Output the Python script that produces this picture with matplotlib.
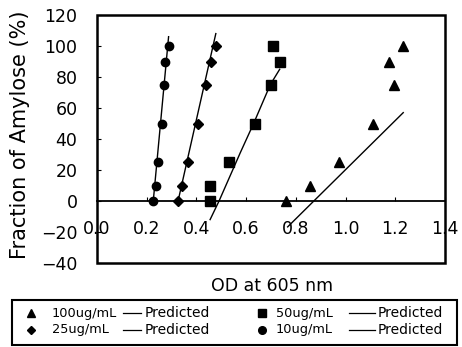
import matplotlib
matplotlib.use("Agg")
import matplotlib.pyplot as plt
from matplotlib.lines import Line2D
from matplotlib.patches import Rectangle

plt.rcParams['font.family'] = ['DejaVu Sans']

# Data
od_100 = [0.762, 0.856, 0.973, 1.11, 1.195, 1.175, 1.232]
fa_100 = [0, 10, 25, 50, 75, 90, 100]
pred_100_x = [0.767, 1.232]
pred_100_y = [-16.7, 57]

od_50 = [0.455, 0.455, 0.533, 0.636, 0.70, 0.737, 0.708]
fa_50 = [0, 10, 25, 50, 75, 90, 100]
pred_50_x = [0.455, 0.491, 0.576, 0.63, 0.697, 0.735]
pred_50_y = [-12, 0, 31, 50, 75, 85]

od_25 = [0.327, 0.341, 0.367, 0.405, 0.44, 0.459, 0.478]
fa_25 = [0, 10, 25, 50, 75, 90, 100]
pred_25_x = [0.327, 0.478]
pred_25_y = [0.6, 108]

od_10 = [0.2255, 0.239, 0.247, 0.26, 0.271, 0.275, 0.29]
fa_10 = [0, 10, 25, 50, 75, 90, 100]
pred_10_x = [0.228, 0.288]
pred_10_y = [2.8, 106]

x_ticks = [0.0, 0.2, 0.4, 0.6, 0.8, 1.0, 1.2, 1.4]
x_ticklabels = ["0.0", "0.2", "0.4", "0.6", "0.8", "1.0", "1.2", "1.4"]
y_ticks = [-40, -20, 0, 20, 40, 60, 80, 100, 120]

legend_labels = ["100ug/mL", "50ug/mL", "25ug/mL", "10ug/mL"]
pred_label = "Predicted"

W, H = 462, 347
fig = plt.figure(figsize=(W / 100, H / 100), dpi=100)


def fx(px):
    return px / W


def fy(py):
    return 1 - py / H


ax = fig.add_axes([fx(97), fy(263), fx(445) - fx(97), fy(15) - fy(263)])

ax.plot(od_100, fa_100, '^', color='black', ms=7.5, ls='none')
ax.plot(pred_100_x, pred_100_y, '-', color='black', lw=1)
ax.plot(od_50, fa_50, 's', color='black', ms=7, ls='none')
ax.plot(pred_50_x, pred_50_y, '-', color='black', lw=1)
ax.plot(od_25, fa_25, 'D', color='black', ms=5, ls='none')
ax.plot(pred_25_x, pred_25_y, '-', color='black', lw=1)
ax.plot(od_10, fa_10, 'o', color='black', ms=6, ls='none')
ax.plot(pred_10_x, pred_10_y, '-', color='black', lw=1)

ax.set_xlim(0, 1.4)
ax.set_ylim(-40, 120)
ax.set_yticks(y_ticks)
ax.set_xticks(x_ticks)
ax.set_xticklabels(x_ticklabels)

for s in ['top', 'right', 'left']:
    ax.spines[s].set_visible(False)
ax.spines['bottom'].set_position(('data', 0))
ax.spines['bottom'].set_linewidth(1.3)
ax.add_patch(Rectangle((0, 0), 1, 1, transform=ax.transAxes, fill=False,
                       lw=1.8, edgecolor='black', clip_on=False, zorder=5))

ax.tick_params(axis='x', direction='in', length=3, pad=14, labelsize=12.5)
ax.tick_params(axis='y', direction='in', length=3, pad=14, labelsize=12.5)

fig.text(fx(20), fy(135), "Fraction of Amylose (%)", rotation=90,
         ha='center', va='center', fontsize=15)
fig.text(fx(272), fy(286), "OD at 605 nm", ha='center', va='center', fontsize=12.5)

# Legend (manual layout)
fig.add_artist(Rectangle((fx(12), fy(345)), fx(457) - fx(12), fy(300) - fy(345),
                         transform=fig.transFigure, fill=False, lw=1.5,
                         edgecolor='black'))
rows = [313, 330]
markers = [('^', 6), ('s', 6), ('D', 4.5), ('o', 5.5)]
mk_x = [31, 262]
txt_x = [52, 276]
line_x = [(123, 141), (349, 375)]
pred_x = [145, 378]
for i, lab in enumerate(legend_labels):
    r = i // 2
    c = i % 2
    m, s = markers[i]
    fig.add_artist(Line2D([fx(mk_x[c])], [fy(rows[r])], marker=m, ms=s,
                          color='black', ls='none', transform=fig.transFigure))
    fig.text(fx(txt_x[c]), fy(rows[r]), lab, ha='left', va='center', fontsize=9.3)
    x0, x1 = line_x[c]
    fig.add_artist(Line2D([fx(x0), fx(x1)], [fy(rows[r]), fy(rows[r])], lw=0.9,
                          color='black', transform=fig.transFigure))
    fig.text(fx(pred_x[c]), fy(rows[r]), pred_label, ha='left', va='center',
             fontsize=10)

fig.savefig("out.png", dpi=100)
